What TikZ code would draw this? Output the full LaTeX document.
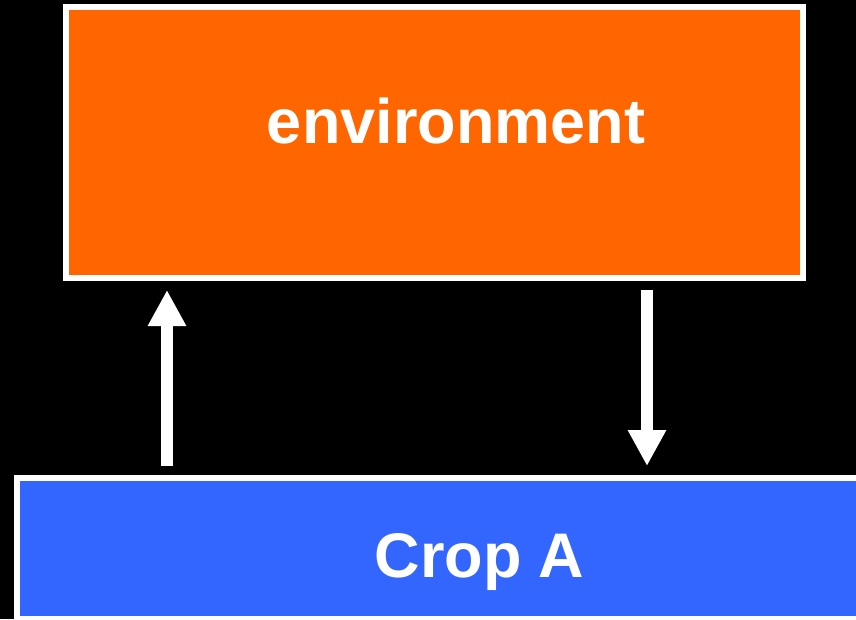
\documentclass[tikz,border=0pt]{standalone}
\usepackage{fontspec}
\setmainfont{Liberation Sans}
\usetikzlibrary{arrows.meta}
\definecolor{envorange}{HTML}{FF6600}
\definecolor{cropblue}{HTML}{3366FF}
\begin{document}
\begin{tikzpicture}[x=1pt,y=-1pt,box/.style={draw=white,line width=6pt,inner sep=0pt},
  lbl/.style={text=white,font=\fontsize{63}{70}\selectfont\bfseries,anchor=base,inner sep=0pt},
  flow/.style={-{Triangle[width=36pt,length=36pt]},draw=white,line width=12pt,shorten <=9pt,shorten >=9pt}]

\clip (0,0) rectangle (856,619);
\fill[black] (0,0) rectangle (856,619);

\node[box,fill=envorange,minimum width=737pt,minimum height=271pt] at (434.5,142.5) (env) {};
\node[box,fill=cropblue,minimum width=883pt,minimum height=141pt] at (458.5,548.5) (crop) {};

\node[lbl] at (456,143) (envtext) {environment};
\node[lbl] at (479.5,577) (croptext) {Crop A};

\coordinate (upx) at (167,0);
\coordinate (downx) at (647,0);

\draw[flow] (crop.north -| upx) -- (env.south -| upx);
\draw[flow] (env.south -| downx) -- (crop.north -| downx);

\end{tikzpicture}
\end{document}
